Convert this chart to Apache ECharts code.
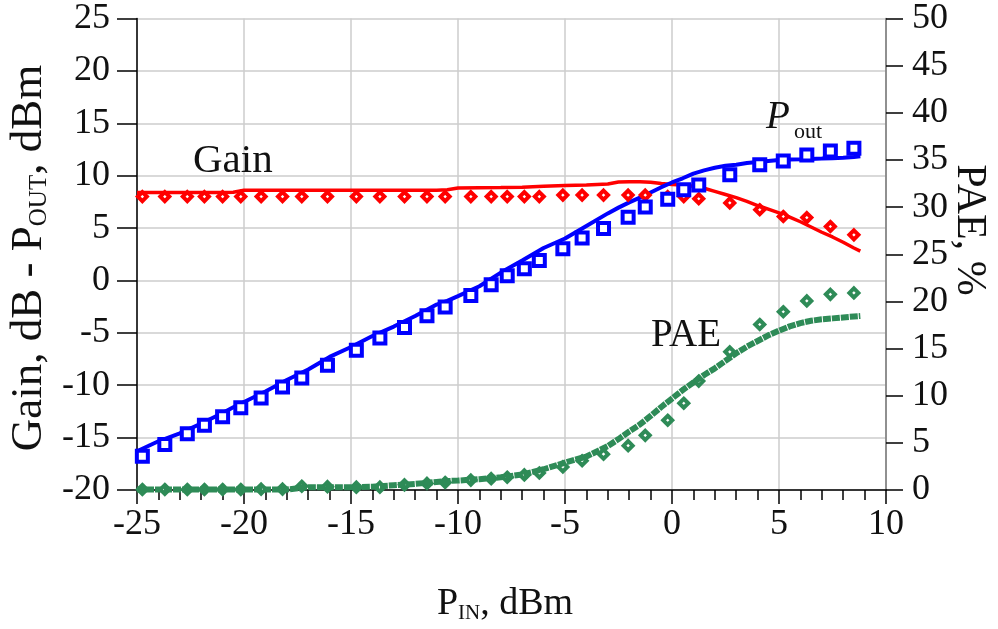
<!DOCTYPE html>
<html>
<head>
<meta charset="utf-8">
<script src="https://cdn.jsdelivr.net/npm/echarts@6/dist/echarts.min.js"></script>
<style>
html,body{margin:0;padding:0;background:#fff;}
#chart{width:998px;height:629px;}
</style>
</head>
<body>
<div id="chart"></div>
<script>
// ---- data ----
const xTicks = [-25, -20, -15, -10, -5, 0, 5, 10];
const leftTicks = [-20, -15, -10, -5, 0, 5, 10, 15, 20, 25];
const rightTicks = [0, 5, 10, 15, 20, 25, 30, 35, 40, 45, 50];

// measured points (markers)
const pinMeas = [-24.75,-23.7,-22.65,-21.85,-21.0,-20.15,-19.2,-18.2,-17.3,-16.1,-14.75,-13.65,-12.5,-11.45,-10.6,-9.4,-8.45,-7.7,-6.9,-6.2,-5.1,-4.2,-3.2,-2.05,-1.25,-0.2,0.55,1.25,2.7,4.1,5.2,6.3,7.4,8.5];
const gainMeas = [8,8,8,8,8,8,8,8,8,8,8,8,8,8,8,8,8,8,8,8,8.15,8.15,8.15,8.15,8.15,8.0,8.0,7.8,7.4,6.75,6.1,6.0,5.15,4.35];
const poutMeas = [-16.78,-15.66,-14.64,-13.82,-13.02,-12.16,-11.21,-10.16,-9.30,-8.10,-6.67,-5.49,-4.48,-3.37,-2.54,-1.43,-0.41,0.45,1.12,1.91,3.02,4.04,4.96,6.04,7.0,7.76,8.65,9.12,10.08,11.03,11.41,11.98,12.36,12.62];
const paeMeas = [0.05,0.05,0.05,0.05,0.05,0.05,0.1,0.1,0.4,0.35,0.3,0.3,0.55,0.7,0.8,1.05,1.2,1.35,1.6,1.8,2.45,3.1,3.8,4.7,5.8,7.4,9.2,11.55,14.65,17.55,18.9,20.05,20.75,20.9];

// simulated curves (lines)
const pinSim = [-25,-24,-23,-22,-21,-20.5,-20,-19,-18,-17,-16,-15,-14,-13,-12,-11,-10.5,-10,-9,-8,-7,-6,-5,-4,-3,-2.5,-2,-1.5,-1,-0.5,0,0.5,1,1.5,2,2.5,3,3.5,4,4.5,5,5.5,6,6.5,7,7.5,8,8.5,8.8];
const gainSim = [8.4,8.4,8.4,8.4,8.4,8.42,8.62,8.62,8.62,8.62,8.62,8.62,8.62,8.62,8.62,8.62,8.65,8.82,8.84,8.86,8.9,8.98,9.05,9.1,9.2,9.4,9.43,9.43,9.38,9.25,9.15,9.1,9.0,8.8,8.5,8.2,7.9,7.55,7.15,6.8,6.45,6.05,5.6,5.1,4.6,4.15,3.65,3.1,2.8];
const poutSim = [-16.3,-15.35,-14.6,-13.65,-12.65,-12.1,-11.6,-10.6,-9.5,-8.5,-7.3,-6.35,-5.3,-4.4,-3.4,-2.3,-1.95,-1.5,-0.55,0.75,1.9,3.1,4.0,5.2,6.4,6.95,7.45,7.9,8.4,8.9,9.35,9.75,10.2,10.5,10.75,10.95,11.05,11.2,11.3,11.4,11.5,11.55,11.57,11.6,11.63,11.67,11.7,11.78,11.85];
const paeSim = [0.05,0.05,0.05,0.05,0.05,0.05,0.05,0.05,0.05,0.3,0.3,0.3,0.35,0.5,0.65,0.85,0.95,1.0,1.15,1.35,1.65,2.2,2.9,3.55,4.65,5.4,6.2,6.95,7.85,8.8,9.7,10.6,11.4,12.2,12.9,13.7,14.5,15.2,15.8,16.4,16.9,17.35,17.7,17.95,18.1,18.2,18.3,18.4,18.45];

// ---- build ----
const pair = (xs, ys) => xs.map((x, i) => [x, ys[i]]);
const FONT = '"Liberation Serif", "Times New Roman", serif';
const RED = '#ff0000', BLUE = '#0000ff', GREEN = '#2e8b57';

const chart = echarts.init(document.getElementById('chart'), null, {renderer: 'canvas'});

const option = {
  animation: false,
  backgroundColor: '#ffffff',
  grid: {left: 137, right: 112, top: 18.5, bottom: 139, containLabel: false},
  xAxis: {
    type: 'value', min: xTicks[0], max: xTicks[xTicks.length - 1], interval: 5,
    axisLine: {show: true, onZero: false, lineStyle: {color: '#000', width: 1.5}},
    axisTick: {show: true, length: 14, lineStyle: {color: '#000', width: 1.5}},
    minorTick: {show: true, splitNumber: 5, length: 10, lineStyle: {color: '#000', width: 1.5}},
    splitLine: {show: true, lineStyle: {color: '#cccccc', width: 1.5}},
    axisLabel: {fontSize: 36, fontFamily: FONT, color: '#111', margin: 17}
  },
  yAxis: [
    {
      type: 'value', min: leftTicks[0], max: leftTicks[leftTicks.length - 1], interval: 5, position: 'left',
      axisLine: {show: true, onZero: false, lineStyle: {color: '#000', width: 1.5}},
      axisTick: {show: true, length: 20, lineStyle: {color: '#000', width: 1.5}},
      splitLine: {show: true, lineStyle: {color: '#cccccc', width: 1.5}},
      axisLabel: {fontSize: 36, fontFamily: FONT, color: '#111', margin: 27}
    },
    {
      type: 'value', min: rightTicks[0], max: rightTicks[rightTicks.length - 1], interval: 5, position: 'right',
      axisLine: {show: true, onZero: false, lineStyle: {color: '#777', width: 1.5}},
      axisTick: {show: true, length: 17, lineStyle: {color: '#000', width: 1.5}},
      splitLine: {show: false},
      axisLabel: {fontSize: 36, fontFamily: FONT, color: '#111', margin: 26}
    }
  ],
  series: [
    {name: 'Gain sim', type: 'line', data: pair(pinSim, gainSim), showSymbol: false, symbol: 'none',
     lineStyle: {color: RED, width: 3.5}, z: 2},
    {name: 'Pout sim', type: 'line', data: pair(pinSim, poutSim), showSymbol: false, symbol: 'none',
     lineStyle: {color: BLUE, width: 4}, z: 2},
    {name: 'Gain meas', type: 'scatter', data: pair(pinMeas, gainMeas), symbol: 'diamond', symbolSize: 9,
     itemStyle: {color: '#fff', borderColor: RED, borderWidth: 4, opacity: 1}, z: 3},
    {name: 'Pout meas', type: 'scatter', data: pair(pinMeas, poutMeas), symbol: 'rect', symbolSize: 11,
     itemStyle: {color: '#fff', borderColor: BLUE, borderWidth: 4, opacity: 1}, z: 3},
    {name: 'PAE meas', type: 'scatter', yAxisIndex: 1, data: pair(pinMeas, paeMeas), symbol: 'diamond', symbolSize: 9,
     itemStyle: {color: '#fff', borderColor: GREEN, borderWidth: 4, opacity: 1}, z: 3},
    {name: 'PAE sim', type: 'line', yAxisIndex: 1, data: pair(pinSim, paeSim), showSymbol: false, symbol: 'none',
     lineStyle: {color: GREEN, width: 6, type: [8, 1], cap: 'butt'}, z: 4}
  ],
  graphic: [
    {type: 'text', x: 29, y: 258, rotation: Math.PI / 2, z: 10,
     style: {text: 'Gain, dB - P{sub|OUT}, dBm', fontSize: 45, fontFamily: FONT, fill: '#111',
             align: 'center', verticalAlign: 'middle', lineHeight: 46,
             rich: {sub: {fontSize: 25, fontFamily: FONT, fill: '#111', lineHeight: 16, verticalAlign: 'bottom'}}}},
    {type: 'text', x: 969, y: 230, rotation: -Math.PI / 2, z: 10,
     style: {text: 'PAE, %', fontSize: 42, fontFamily: FONT, fill: '#111', align: 'center', verticalAlign: 'middle'}},
    {type: 'text', x: 505, y: 604, z: 10,
     style: {text: 'P{sub|IN}, dBm', fontSize: 38, fontFamily: FONT, fill: '#111',
             align: 'center', verticalAlign: 'middle', lineHeight: 40,
             rich: {sub: {fontSize: 21, fontFamily: FONT, fill: '#111', lineHeight: 14, verticalAlign: 'bottom'}}}},
    {type: 'text', x: 193, y: 182, z: 10,
     style: {text: 'Gain', fontSize: 41, fontFamily: FONT, fill: '#111', align: 'left', verticalAlign: 'bottom'}},
    {type: 'text', x: 651, y: 355, z: 10,
     style: {text: 'PAE', fontSize: 39, fontFamily: FONT, fill: '#111', align: 'left', verticalAlign: 'bottom'}},
    {type: 'text', x: 766, y: 137.5, z: 10,
     style: {text: 'P', fontSize: 39, fontStyle: 'italic', fontFamily: FONT, fill: '#111', align: 'left', verticalAlign: 'bottom'}},
    {type: 'text', x: 794, y: 143, z: 10,
     style: {text: 'out', fontSize: 22, fontFamily: FONT, fill: '#111', align: 'left', verticalAlign: 'bottom'}}
  ]
};
chart.setOption(option);
</script>
</body>
</html>
